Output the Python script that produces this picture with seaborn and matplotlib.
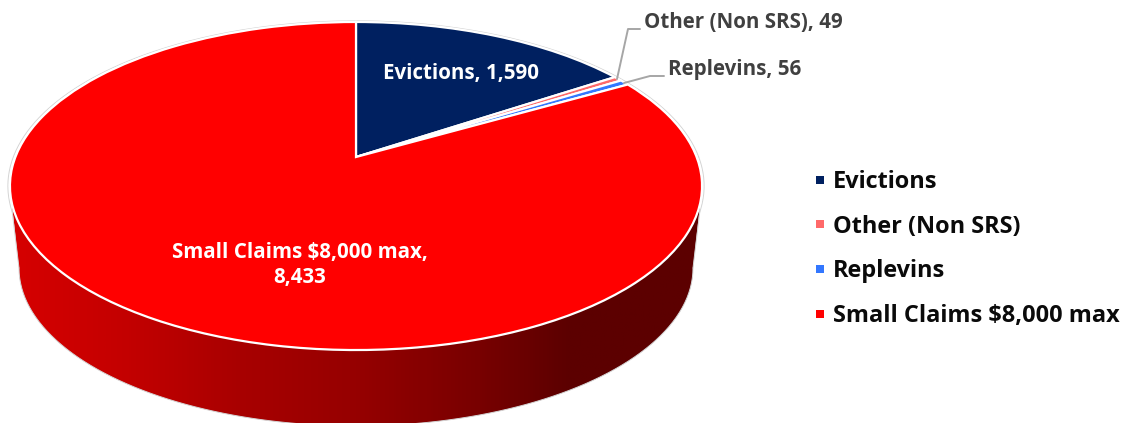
import numpy as np
import matplotlib
matplotlib.use("Agg")
import matplotlib.pyplot as plt
from matplotlib.colors import LinearSegmentedColormap
from matplotlib.lines import Line2D
from matplotlib.patches import Polygon
from matplotlib.transforms import Transform
import seaborn as sns

categories = ["Evictions", "Other (Non SRS)", "Replevins", "Small Claims $8,000 max"]
counts = [1590, 49, 56, 8433]
slice_colors = ["#002060", "#FF6969", "#3377FF", "#FF0000"]

W, H = 1132, 423
sns.set_theme(style="white")
plt.rcParams["font.family"] = ["Open Sans", "DejaVu Sans"]
palette = sns.color_palette(slice_colors)


class TiltedDisc(Transform):
    """Perspective view of the unit pie, in pixel coordinates."""
    input_dims = output_dims = 2
    def __init__(self, x0=356, y0=157, a=340.6, b=158.9, k=0.1768):
        super().__init__()
        self.p = (x0, y0, a, b, k)
    def transform_non_affine(self, xy):
        x0, y0, a, b, k = self.p
        xy = np.asarray(xy, float)
        d = 1 + k * xy[:, 1]
        return np.column_stack([x0 + a * xy[:, 0] / d, y0 - b * xy[:, 1] / d])


fig = plt.figure(figsize=(W / 100, H / 100), dpi=100)
ax = fig.add_axes([0, 0, 1, 1])
wedges, _ = ax.pie(counts, colors=palette, startangle=90, counterclock=False,
                   wedgeprops=dict(edgecolor="white", linewidth=1.6))
ax.set_aspect("auto")
ax.set_xlim(0, W)
ax.set_ylim(H, 0)
ax.axis("off")
tilt = TiltedDisc() + ax.transData
for w in wedges:
    w.set_transform(tilt)
    w.set_zorder(4)

# rim of the disc (shaded wall below the top face)
t = np.linspace(0, np.pi, 200)
bx, by = 356 + 337 * np.cos(t), 268 + 158 * np.sin(t)
wall = Polygon(np.column_stack([np.r_[700, bx, 12], np.r_[205, by, 205]]),
               closed=True, transform=ax.transData, fc="none", ec="none")
ax.add_patch(wall)
stops = [(0, "#D60000"), (0.16, "#C40000"), (0.33, "#A80000"), (0.5, "#960000"),
         (0.68, "#780000"), (0.81, "#5C0000"), (1, "#5C0000")]
cmap = LinearSegmentedColormap.from_list("wall", stops)
img = ax.imshow(np.linspace(0, 1, 400)[None, :], extent=(12, 700, 430, 200), cmap=cmap,
                aspect="auto", zorder=2)
img.set_clip_path(wall)
ax.plot(bx, by, color="#D4D4D4", lw=0.7, zorder=3)
for sx in ((12, 19), (700, 693)):
    ax.plot(sx, (210, 268), color="#D4D4D4", lw=0.7, zorder=3)

# thin grey outline just outside the top face
th = np.linspace(0, 2 * np.pi, 400)
rim = TiltedDisc().transform_non_affine(np.column_stack([np.cos(th), np.sin(th)]))
cx, cy = 356, 186
ax.plot(cx + (rim[:, 0] - cx) * 1.006, cy + (rim[:, 1] - cy) * 1.007,
        color="#D4D4D4", lw=0.7, zorder=1)

# data labels
lab = dict(fontsize=14.8, fontweight="bold", zorder=6)
ax.text(461, 73, f"{categories[0]}, {counts[0]:,}", color="white", ha="center", va="center", **lab)
ax.text(300, 265, f"Small Claims $8,000 max,\n{counts[3]:,}", color="white", ha="center",
        va="center", linespacing=1.28, **lab)
ax.text(644, 23, f"{categories[1]}, {counts[1]}", color="#404040", ha="left", va="center", **lab)
ax.text(668, 70, f"{categories[2]}, {counts[2]}", color="#404040", ha="left", va="center", **lab)
ax.plot([617, 628, 640], [79, 29, 29], color="#A6A6A6", lw=1.4, zorder=5)
ax.plot([624, 650, 664], [83, 76, 76], color="#A6A6A6", lw=1.4, zorder=5)

# legend
handles = [Line2D([], [], ls="none", marker="s", ms=5.6, color=c, mew=0) for c in palette]
leg = ax.legend(handles, categories, loc="upper left", bbox_to_anchor=(0.7185, 0.598), frameon=False,
                prop=dict(size=16.9, weight="bold"), labelcolor="#0A0A0A", handlelength=0.55,
                handletextpad=0.3, labelspacing=0.88, borderpad=0, borderaxespad=0)

fig.savefig("out.png", dpi=100)
